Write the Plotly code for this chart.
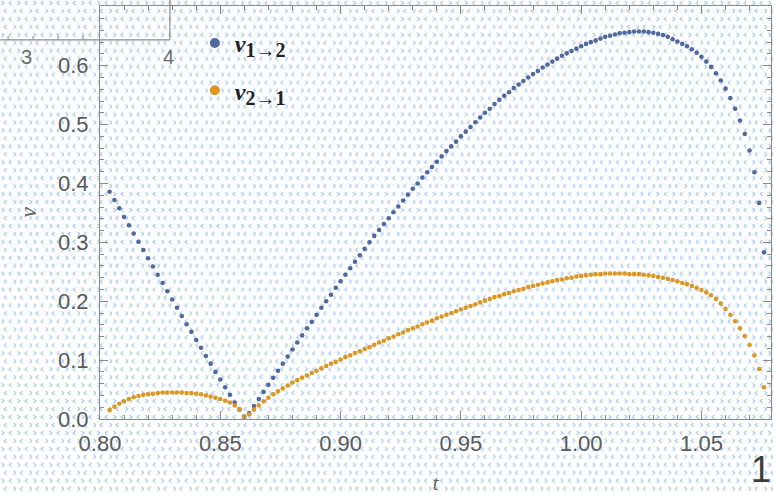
import base64
import plotly.graph_objects as go

# ---------------- data ----------------
t = [0.804, 0.806, 0.808, 0.810, 0.812, 0.814, 0.816, 0.818, 0.820, 0.822,
     0.824, 0.826, 0.828, 0.830, 0.832, 0.834, 0.836, 0.838, 0.840, 0.842,
     0.844, 0.846, 0.848, 0.850, 0.852, 0.854, 0.856, 0.858, 0.860, 0.862,
     0.864, 0.866, 0.868, 0.870, 0.872, 0.874, 0.876, 0.878, 0.880, 0.882,
     0.884, 0.886, 0.888, 0.890, 0.892, 0.894, 0.896, 0.898, 0.900, 0.902,
     0.904, 0.906, 0.908, 0.910, 0.912, 0.914, 0.916, 0.918, 0.920, 0.922,
     0.924, 0.926, 0.928, 0.930, 0.932, 0.934, 0.936, 0.938, 0.940, 0.942,
     0.944, 0.946, 0.948, 0.950, 0.952, 0.954, 0.956, 0.958, 0.960, 0.962,
     0.964, 0.966, 0.968, 0.970, 0.972, 0.974, 0.976, 0.978, 0.980, 0.982,
     0.984, 0.986, 0.988, 0.990, 0.992, 0.994, 0.996, 0.998, 1.000, 1.002,
     1.004, 1.006, 1.008, 1.010, 1.012, 1.014, 1.016, 1.018, 1.020, 1.022,
     1.024, 1.026, 1.028, 1.030, 1.032, 1.034, 1.036, 1.038, 1.040, 1.042,
     1.044, 1.046, 1.048, 1.050, 1.052, 1.054, 1.056, 1.058, 1.060, 1.062,
     1.064, 1.066, 1.068, 1.070, 1.072, 1.074, 1.076]

v12 = [0.386, 0.372, 0.358, 0.343, 0.329, 0.315, 0.301, 0.287, 0.273, 0.259,
       0.245, 0.231, 0.217, 0.203, 0.189, 0.175, 0.161, 0.148, 0.134, 0.121,
       0.107, 0.094, 0.080, 0.067, 0.054, 0.041, 0.028, 0.016, 0.004, 0.010,
       0.022, 0.034, 0.046, 0.058, 0.070, 0.082, 0.094, 0.106, 0.118, 0.130,
       0.142, 0.154, 0.165, 0.177, 0.189, 0.200, 0.211, 0.223, 0.234, 0.245,
       0.256, 0.267, 0.278, 0.289, 0.300, 0.311, 0.321, 0.331, 0.341, 0.351,
       0.361, 0.371, 0.381, 0.391, 0.400, 0.410, 0.419, 0.428, 0.437, 0.446,
       0.455, 0.463, 0.471, 0.480, 0.488, 0.496, 0.504, 0.512, 0.520, 0.527,
       0.535, 0.542, 0.549, 0.555, 0.562, 0.568, 0.574, 0.580, 0.586, 0.591,
       0.597, 0.602, 0.607, 0.612, 0.617, 0.621, 0.625, 0.629, 0.633, 0.637,
       0.640, 0.643, 0.646, 0.649, 0.651, 0.653, 0.655, 0.656, 0.657, 0.658,
       0.658, 0.658, 0.657, 0.656, 0.654, 0.652, 0.649, 0.645, 0.641, 0.637,
       0.633, 0.628, 0.622, 0.615, 0.607, 0.598, 0.587, 0.575, 0.561, 0.545,
       0.527, 0.507, 0.484, 0.456, 0.419, 0.367, 0.283]

v21 = [0.015, 0.021, 0.026, 0.030, 0.034, 0.037, 0.039, 0.041, 0.042, 0.043,
       0.044, 0.045, 0.045, 0.045, 0.045, 0.045, 0.044, 0.044, 0.043, 0.042,
       0.040, 0.038, 0.036, 0.034, 0.031, 0.028, 0.023, 0.016, 0.004, 0.008,
       0.016, 0.023, 0.030, 0.036, 0.042, 0.047, 0.052, 0.057, 0.062, 0.066,
       0.070, 0.074, 0.078, 0.082, 0.086, 0.090, 0.094, 0.097, 0.101, 0.105,
       0.108, 0.112, 0.115, 0.119, 0.122, 0.126, 0.130, 0.133, 0.137, 0.140,
       0.144, 0.147, 0.151, 0.154, 0.157, 0.161, 0.164, 0.167, 0.171, 0.174,
       0.177, 0.180, 0.183, 0.186, 0.189, 0.192, 0.195, 0.198, 0.201, 0.204,
       0.207, 0.209, 0.212, 0.214, 0.217, 0.219, 0.221, 0.224, 0.226, 0.228,
       0.230, 0.232, 0.234, 0.236, 0.237, 0.239, 0.240, 0.242, 0.243, 0.244,
       0.245, 0.246, 0.246, 0.247, 0.247, 0.247, 0.247, 0.247, 0.246, 0.246,
       0.246, 0.245, 0.244, 0.243, 0.241, 0.240, 0.238, 0.236, 0.234, 0.231,
       0.229, 0.226, 0.223, 0.219, 0.215, 0.210, 0.204, 0.196, 0.187, 0.177,
       0.166, 0.154, 0.141, 0.126, 0.108, 0.085, 0.054]

series_names = ["<b><i>v</i></b><sub><b><span style='font-size:20px'>1\u21922</span></b></sub>",
                "<b><i>v</i></b><sub><b><span style='font-size:20px'>2\u21921</span></b></sub>"]
x_ticks = [0.80, 0.85, 0.90, 0.95, 1.00, 1.05]
y_ticks = [0.0, 0.1, 0.2, 0.3, 0.4, 0.5, 0.6]

BLUE = "#5068a0"
ORANGE = "#dc9722"
AXIS = "#8a8a8a"
LABEL = "#5a5a5a"

W, H = 774, 495
ML, MR, MT, MB = 100, 2, 6, 74
PW, PH = W - ML - MR, H - MT - MB


def px(x):
    return (x - ML) / PW


def py(y):
    return 1 - (y - MT) / PH


fig = go.Figure()
fig.add_trace(go.Scatter(x=t, y=v12, mode="markers", showlegend=False,
                         marker=dict(color=BLUE, size=4.6)))
fig.add_trace(go.Scatter(x=t, y=v21, mode="markers", showlegend=False,
                         marker=dict(color=ORANGE, size=4.6)))
# legend-only entries
for name, col, grp in [(series_names[0], BLUE, "a"), (series_names[1], ORANGE, "b")]:
    fig.add_trace(go.Scatter(x=[None], y=[None], mode="markers", name=name,
                             legendgroup=grp, marker=dict(color=col, size=10)))

# background texture of small chevrons (screenshot artefact)
stroke = 'stroke="#a3c7ef" stroke-width="1.1" fill="none"'
glyphs = (f'<path d="M1.5,1 L4,3 L1.5,5" {stroke}/>'
          f'<path d="M11.5,1 L9,3 L11.5,5" {stroke}/>'
          f'<path d="M6.5,9 L4,11 L6.5,13" {stroke}/>'
          f'<path d="M13.5,9 L16,11 L13.5,13" {stroke}/>')
svg = (f'<svg xmlns="http://www.w3.org/2000/svg" width="{W}" height="{H}">'
       f'<defs><pattern id="p" width="16" height="16" patternUnits="userSpaceOnUse">'
       f'{glyphs}</pattern></defs><rect width="{W}" height="{H}" fill="url(#p)"/></svg>')
uri = "data:image/svg+xml;base64," + base64.b64encode(svg.encode()).decode()
fig.add_layout_image(dict(source=uri, xref="paper", yref="paper", x=px(0), y=py(0),
                          sizex=W / PW, sizey=H / PH, sizing="stretch",
                          xanchor="left", yanchor="top", layer="below"))

# fragments of another frame at the top-left and a stray "1"
line = dict(color=AXIS, width=1.2)
shapes = [
    dict(type="line", xref="paper", yref="paper", x0=px(0), x1=px(170), y0=py(40), y1=py(40), line=line),
    dict(type="line", xref="paper", yref="paper", x0=px(170), x1=px(170), y0=py(0), y1=py(40), line=line),
]
for xx in [8, 33, 58, 83]:
    shapes.append(dict(type="line", xref="paper", yref="paper", x0=px(xx), x1=px(xx),
                       y0=py(40), y1=py(36), line=dict(color=AXIS, width=1)))
fig.update_layout(shapes=shapes)
fig.add_annotation(text="3", xref="paper", yref="paper", x=px(26), y=py(57), showarrow=False,
                   xanchor="center", yanchor="middle",
                   font=dict(family="Liberation Sans", size=20, color="#6a6a6a"))
fig.add_annotation(text="4", xref="paper", yref="paper", x=px(169), y=py(57), showarrow=False,
                   xanchor="center", yanchor="middle",
                   font=dict(family="Liberation Sans", size=20, color="#6a6a6a"))
fig.add_annotation(text="1", xref="paper", yref="paper", x=px(774), y=py(494), showarrow=False,
                   xanchor="right", yanchor="bottom",
                   font=dict(family="Liberation Sans", size=36, color="#3c3c3c"))

axis_common = dict(showline=True, linecolor=AXIS, linewidth=1.2, mirror="ticks",
                   ticks="inside", ticklen=8, tickcolor=AXIS, tickwidth=1.1,
                   showgrid=False, zeroline=False,
                   tickfont=dict(family="Liberation Sans", size=22, color=LABEL))
fig.update_xaxes(range=[0.80, 1.0789], tickvals=x_ticks, tickformat=".2f",
                 minor=dict(dtick=0.01, ticks="inside", ticklen=4, tickcolor=AXIS, showgrid=False),
                 title=dict(text="<i>t</i>", standoff=22,
                            font=dict(family="Liberation Serif", size=22, color="#666666")),
                 ticklabelstandoff=4, **axis_common)
fig.update_yaxes(range=[0, 0.7014], tickvals=y_ticks, tickformat=".1f",
                 minor=dict(dtick=0.02, ticks="inside", ticklen=4, tickcolor=AXIS, showgrid=False),
                 title=dict(text="<i>v</i>", standoff=14,
                            font=dict(family="Liberation Serif", size=24, color="#666666")),
                 ticklabelstandoff=6, **axis_common)

fig.update_layout(
    width=W, height=H, autosize=False,
    margin=dict(l=ML, r=MR, t=MT, b=MB),
    paper_bgcolor="white", plot_bgcolor="rgba(0,0,0,0)",
    legend=dict(x=px(195), y=py(21), xanchor="left", yanchor="top",
                bgcolor="rgba(0,0,0,0)", tracegroupgap=13, traceorder="grouped",
                font=dict(family="Liberation Serif", size=24, color="#222222")),
)

fig.write_html("out.html")
